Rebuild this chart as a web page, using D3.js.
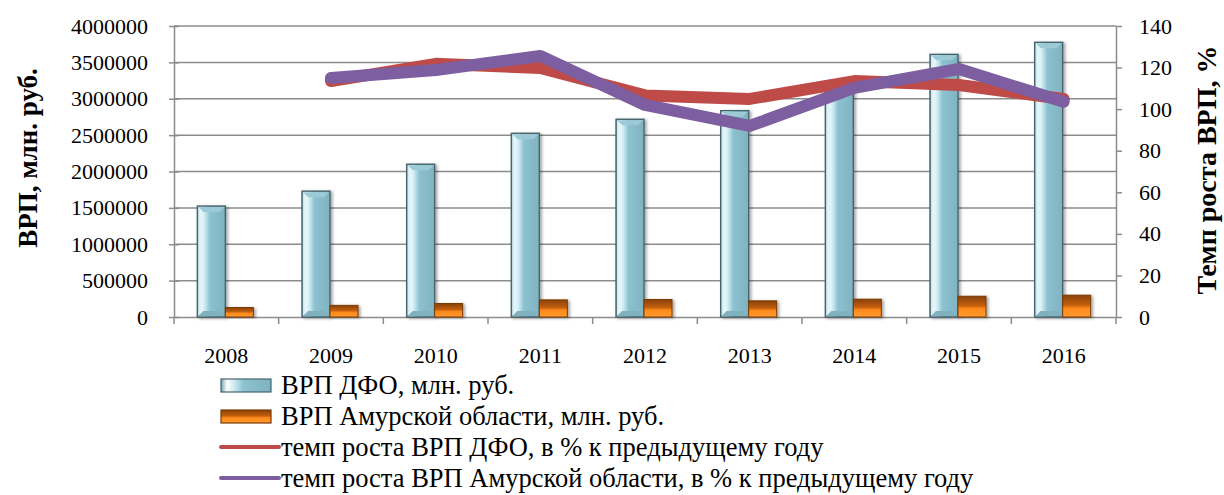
<!DOCTYPE html>
<html>
  <head>
    <meta charset="UTF-8">
    <title>ВРП ДФО и Амурской области</title>
    <style>
      body { margin: 0; background: #fff; }
      svg { display: block; }
      svg text { font-family: "Liberation Serif", "Times New Roman", serif !important; }
    </style>
  </head>
  <body>

    <svg></svg>

    <script src="https://d3js.org/d3.v7.min.js"></script>
    <script>

// data
var years = ["2008", "2009", "2010", "2011", "2012", "2013", "2014", "2015", "2016"];
var grpDfo = [1525000, 1730000, 2100000, 2525000, 2718000, 2836000, 3100000, 3610000, 3776000];
var grpAmur = [130000, 160000, 185000, 235000, 240000, 222000, 245000, 285000, 300000];
var rateDfo = [null, 113.5, 121.8, 119.8, 106.6, 104.9, 113.5, 111.6, 104.9];
var rateAmur = [null, 115, 118.8, 125.6, 102, 91.9, 110.2, 119.3, 103.6];
var leftTicks = [0, 500000, 1000000, 1500000, 2000000, 2500000, 3000000, 3500000, 4000000];
var rightTicks = [0, 20, 40, 60, 80, 100, 120, 140];

var legendNames = [
  "ВРП ДФО, млн. руб.",
  "ВРП Амурской области, млн. руб.",
  "темп роста ВРП ДФО, в % к предыдущему году",
  "темп роста ВРП Амурской области, в % к предыдущему году"
];

var config = {
  width: 1224,
  height: 495,
  plot: { left: 174, right: 1116, top: 26, bottom: 317 },
  red: "#be4b48",
  purple: "#7d5ea0",
  grid: "#8c8c8c"
};

var svg = d3.select("svg")
  .attr("width", config.width)
  .attr("height", config.height);

var p = config.plot;

var x = d3.scaleBand().domain(years).range([p.left, p.right]);
var bw = x.bandwidth();
var xs = d3.scaleBand().domain(["dfo", "amur"]).range([bw / 2 - 29, bw / 2 + 27]);

var yL = d3.scaleLinear().domain([0, 4000000]).range([p.bottom, p.top]);
var yR = d3.scaleLinear().domain([0, 140]).range([p.bottom, p.top]);

/* gradients */
var defs = svg.append("defs");

var gBlue = defs.append("linearGradient").attr("id", "gBlue");
[["0%", "#6fa6b6"], ["12%", "#ffffff"], ["30%", "#bfe4ec"], ["45%", "#8cc1cf"], ["100%", "#80b3c1"]]
  .forEach(function(s) { gBlue.append("stop").attr("offset", s[0]).attr("stop-color", s[1]); });

var gOrange = defs.append("linearGradient").attr("id", "gOrange")
  .attr("x1", 0).attr("x2", 0).attr("y1", 0).attr("y2", 1);
[["0%", "#8a4206"], ["45%", "#c25f0c"], ["60%", "#ff8a1c"], ["100%", "#ff9a2e"]]
  .forEach(function(s) { gOrange.append("stop").attr("offset", s[0]).attr("stop-color", s[1]); });

var shadow = defs.append("filter").attr("id", "shadow")
  .attr("x", "-20%").attr("y", "-20%").attr("width", "160%").attr("height", "140%");
shadow.append("feDropShadow").attr("dx", 2).attr("dy", 1).attr("stdDeviation", 1.5)
  .attr("flood-color", "#000").attr("flood-opacity", 0.35);

/* gridlines */
svg.append("g")
  .selectAll("line")
  .data(leftTicks.slice(1))
  .enter().append("line")
    .attr("x1", p.left).attr("x2", p.right)
    .attr("y1", function(d) { return yL(d); })
    .attr("y2", function(d) { return yL(d); })
    .attr("stroke", config.grid)
    .attr("stroke-width", 1.5);

/* axes */
var axisL = svg.append("g")
  .attr("transform", "translate(" + p.left + ",0)")
  .call(d3.axisLeft(yL).tickValues(leftTicks).tickFormat(d3.format("d")).tickSizeInner(5).tickSizeOuter(0).tickPadding(21));
axisL.selectAll(".tick line").attr("x2", -5).attr("x1", 5);

var axisR = svg.append("g")
  .attr("transform", "translate(" + p.right + ",0)")
  .call(d3.axisRight(yR).tickValues(rightTicks).tickSize(6).tickSizeOuter(0).tickPadding(17));

var axisB = svg.append("g")
  .attr("transform", "translate(0," + p.bottom + ")")
  .call(d3.axisBottom(x).tickSize(0).tickPadding(30));

// category boundary ticks on the x axis
svg.append("g")
  .selectAll("line")
  .data(years.concat(["end"]))
  .enter().append("line")
    .attr("x1", function(d, i) { return p.left + i * bw; })
    .attr("x2", function(d, i) { return p.left + i * bw; })
    .attr("y1", p.bottom).attr("y2", p.bottom + 7)
    .attr("stroke", config.grid).attr("stroke-width", 1.5);

[axisL, axisR, axisB].forEach(function(a) {
  a.attr("font-family", null);
  a.selectAll(".domain").attr("stroke", config.grid).attr("stroke-width", 1.5);
  a.selectAll(".tick line").attr("stroke", config.grid).attr("stroke-width", 1.5);
  a.selectAll("text")
    .attr("font-size", 22)
    .attr("fill", "#000");
});

/* bars */
var bars = svg.append("g");

years.forEach(function(yr, i) {
  var x0 = x(yr) + xs("dfo");
  var w = xs.bandwidth();
  var top = yL(grpDfo[i]);
  bars.append("rect")
    .attr("x", x0).attr("y", top)
    .attr("width", w).attr("height", p.bottom - top)
    .attr("fill", "url(#gBlue)")
    .attr("stroke", "#46646d").attr("stroke-width", 1.4)
    .attr("filter", "url(#shadow)");
  // bevel faces
  bars.append("path")
    .attr("d", "M" + (x0 + 1) + "," + (top + 1) + "L" + (x0 + w - 1) + "," + (top + 1) +
      "L" + (x0 + w - 6) + "," + (top + 6) + "L" + (x0 + 6) + "," + (top + 6) + "Z")
    .attr("fill", "#9ccbd7");
  bars.append("path")
    .attr("d", "M" + (x0 + 1) + "," + (top + 1) + "L" + (x0 + 6) + "," + (top + 6) +
      "L" + (x0 + 6) + "," + (p.bottom - 6) + "L" + (x0 + 1) + "," + (p.bottom - 1) + "Z")
    .attr("fill", "#dff3f7").attr("opacity", 0.8);
  bars.append("path")
    .attr("d", "M" + (x0 + 1) + "," + (p.bottom - 1) + "L" + (x0 + 6) + "," + (p.bottom - 6) +
      "L" + (x0 + w - 6) + "," + (p.bottom - 6) + "L" + (x0 + w - 1) + "," + (p.bottom - 1) + "Z")
    .attr("fill", "#7fb1bf");

  var xa = x(yr) + xs("amur");
  var ta = yL(grpAmur[i]);
  bars.append("rect")
    .attr("x", xa).attr("y", ta)
    .attr("width", w).attr("height", p.bottom - ta)
    .attr("fill", "url(#gOrange)")
    .attr("stroke", "#7a3a06").attr("stroke-width", 1)
    .attr("filter", "url(#shadow)");
});

/* lines */
var lineR = d3.line()
  .defined(function(d) { return d.v != null; })
  .x(function(d) { return x(d.year) + bw / 2; })
  .y(function(d) { return yR(d.v); });

function pairs(arr) {
  return years.map(function(yr, i) { return { year: yr, v: arr[i] }; });
}

[[rateDfo, config.red], [rateAmur, config.purple]].forEach(function(s) {
  svg.append("path")
    .datum(pairs(s[0]))
    .attr("d", lineR)
    .attr("fill", "none")
    .attr("stroke", s[1])
    .attr("stroke-width", 12)
    .attr("stroke-linecap", "round")
    .attr("stroke-linejoin", "round");
});

/* axis titles */
svg.append("text")
  .attr("transform", "translate(37,158) rotate(-90)")
  .attr("text-anchor", "middle")
  .attr("font-size", 27)
  .attr("font-weight", "bold")
  .text("ВРП, млн. руб.");

svg.append("text")
  .attr("transform", "translate(1216,170) rotate(-90)")
  .attr("text-anchor", "middle")
  .attr("font-size", 28)
  .attr("font-weight", "bold")
  .text("Темп роста ВРП, %");

/* legend */
var legend = svg.append("g")
  .attr("font-size", 26.5)
  .selectAll("g")
  .data(legendNames)
  .enter().append("g")
    .attr("transform", function(d, i) { return "translate(221," + (385 + i * 31) + ")"; });

legend.each(function(d, i) {
  var g = d3.select(this);
  if (i < 2) {
    g.append("rect")
      .attr("x", 0).attr("y", -6)
      .attr("width", 50).attr("height", 13)
      .attr("fill", i == 0 ? "url(#gBlue)" : "url(#gOrange)")
      .attr("stroke", i == 0 ? "#46646d" : "#7a3a06")
      .attr("stroke-width", 1.2);
  } else {
    g.append("line")
      .attr("x1", 0).attr("x2", 58)
      .attr("stroke", i == 2 ? config.red : config.purple)
      .attr("stroke-width", 4)
      .attr("stroke-linecap", "round");
  }
  g.append("text")
    .attr("x", 60)
    .attr("dy", "0.35em")
    .text(d);
});

    </script>
  </body>
</html>
